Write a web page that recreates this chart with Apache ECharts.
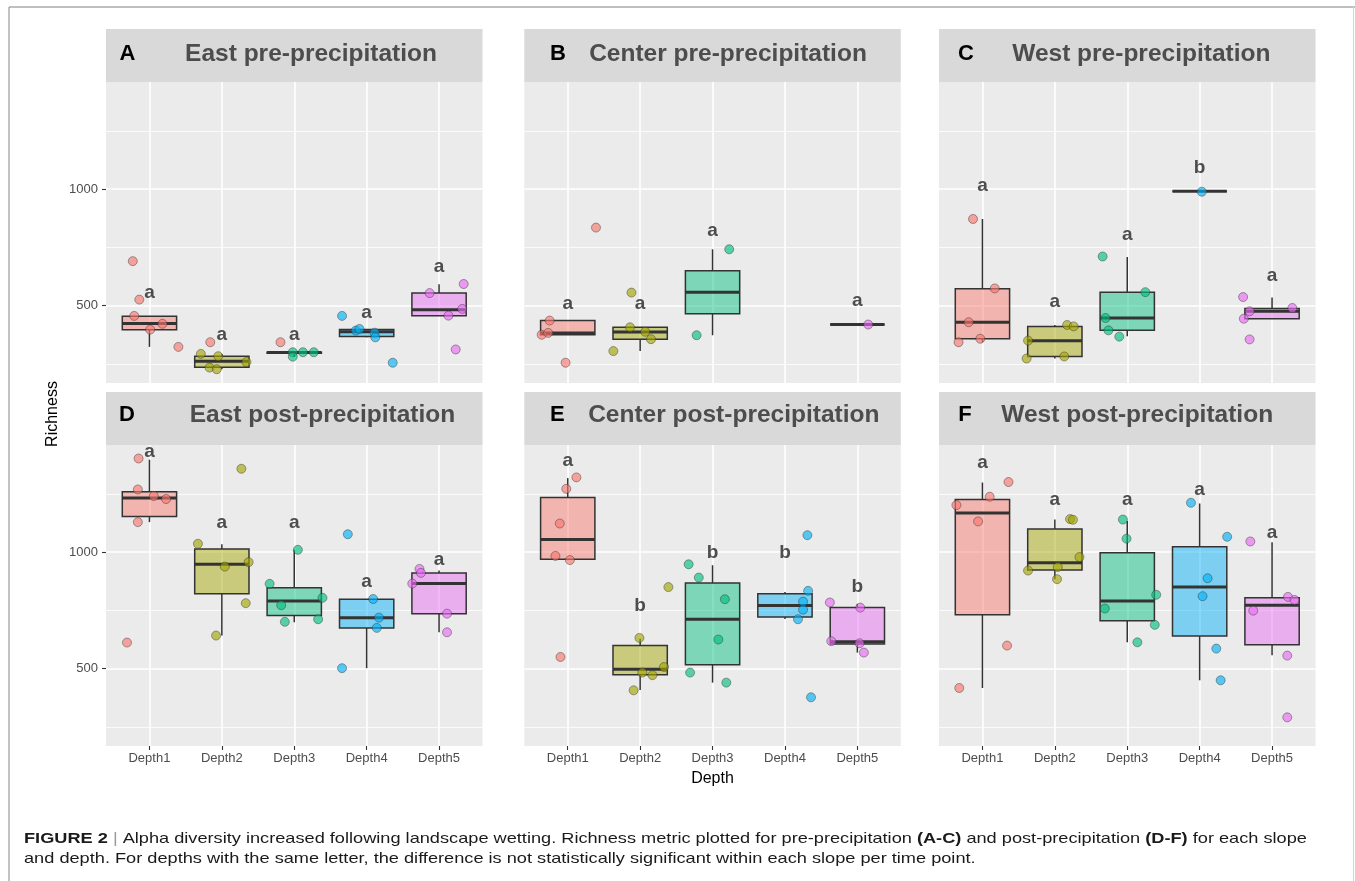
<!DOCTYPE html>
<html>
<head>
<meta charset="utf-8">
<title>Richness by depth</title>
<script src="https://cdn.jsdelivr.net/npm/echarts@6.0.0/dist/echarts.min.js"></script>
<style>
  html, body { margin: 0; padding: 0; background: #ffffff; }
  #chart { width: 1355px; height: 881px; }
</style>
</head>
<body>
<div id="chart"></div>
<script>
// ---- data ---------------------------------------------------------------
const depths = ['Depth1', 'Depth2', 'Depth3', 'Depth4', 'Depth5'];
const depthColors = ['#F8766D', '#A3A500', '#00BF7D', '#00B0F6', '#E76BF3'];
const panelLetters = ['A', 'B', 'C', 'D', 'E', 'F'];
const panelTitles = [
  'East pre-precipitation', 'Center pre-precipitation', 'West pre-precipitation',
  'East post-precipitation', 'Center post-precipitation', 'West post-precipitation'
];
const yMajorTicks = [500, 1000];
const yMinorTicks = [250, 750, 1250];
const yRange = [168, 1460];

// box statistics per depth: [lower whisker, Q1, median, Q3, upper whisker]
const eastPreBoxes = [
  [323, 397, 423, 454, 456], [227, 236, 261, 283, 293], [280, 296, 299, 300, 300],
  [364, 368, 388, 398, 398], [457, 457, 482, 554, 592]
];
const centerPreBoxes = [
  [375, 375, 383, 436, 436], [305, 356, 387, 407, 407], [373, 465, 557, 650, 742],
  null, [419, 419, 419, 419, 419]
];
const westPreBoxes = [
  [343, 358, 429, 573, 872], [273, 282, 349, 411, 417], [369, 394, 447, 558, 709],
  [991, 991, 991, 991, 991], [444, 444, 476, 488, 535]
];
const eastPostBoxes = [
  [1129, 1153, 1233, 1259, 1397], [642, 821, 948, 1014, 1034], [699, 728, 790, 847, 1010],
  [502, 675, 719, 798, 798], [656, 736, 865, 911, 921]
];
const centerPostBoxes = [
  [966, 970, 1054, 1235, 1318], [408, 474, 497, 599, 628], [440, 517, 712, 868, 944],
  [713, 722, 771, 821, 829], [569, 606, 615, 762, 778]
];
const westPostBoxes = [
  [417, 731, 1168, 1226, 1299], [884, 923, 955, 1099, 1140], [613, 706, 790, 997, 1134],
  [450, 640, 850, 1023, 1209], [558, 603, 772, 804, 1043]
];

// samples: [depth, horizontal jitter, richness, (optional) colour group]
const eastPrePoints = [
  [1, -0.23, 691], [1, -0.14, 526], [1, -0.21, 456], [1, 0.01, 397], [1, 0.18, 422], [1, 0.40, 323],
  [2, -0.16, 343, 1], [2, -0.29, 293], [2, -0.05, 283], [2, 0.34, 258], [2, -0.17, 234], [2, -0.07, 227],
  [3, -0.19, 343, 1], [3, -0.02, 300], [3, -0.02, 281], [3, 0.12, 300], [3, 0.27, 300],
  [4, -0.34, 456], [4, -0.15, 393], [4, -0.10, 400], [4, 0.11, 384], [4, 0.12, 364], [4, 0.36, 255],
  [5, -0.13, 554], [5, 0.34, 593], [5, 0.32, 486], [5, 0.13, 457], [5, 0.23, 312]
];
const centerPrePoints = [
  [1, -0.25, 436], [1, -0.36, 375], [1, -0.27, 383], [1, 0.39, 835], [1, -0.03, 255],
  [2, -0.12, 556], [2, -0.14, 407], [2, 0.07, 388], [2, 0.15, 356], [2, -0.37, 305],
  [3, 0.23, 742], [3, -0.22, 373],
  [5, 0.15, 419]
];
const westPrePoints = [
  [1, -0.13, 872], [1, 0.17, 574], [1, -0.19, 429], [1, -0.03, 358], [1, -0.33, 343],
  [2, 0.17, 417], [2, 0.26, 411], [2, -0.37, 350], [2, 0.13, 282], [2, -0.39, 273],
  [3, -0.34, 711], [3, 0.25, 558], [3, -0.30, 447], [3, -0.26, 394], [3, -0.11, 367],
  [4, 0.03, 989],
  [5, -0.40, 537], [5, 0.28, 490], [5, -0.31, 476], [5, -0.39, 444], [5, -0.31, 355]
];
const eastPostPoints = [
  [1, -0.15, 1402], [1, -0.16, 1269], [1, 0.06, 1241], [1, 0.23, 1228], [1, -0.16, 1129], [1, -0.31, 612],
  [2, -0.33, 1036], [2, 0.27, 1358], [2, 0.04, 938], [2, 0.37, 957], [2, 0.33, 781], [2, -0.08, 642],
  [3, -0.34, 864], [3, 0.05, 1010], [3, -0.18, 772], [3, 0.39, 804], [3, -0.13, 701], [3, 0.33, 712],
  [4, -0.26, 1077], [4, 0.09, 799], [4, 0.17, 719], [4, 0.14, 675], [4, -0.34, 502],
  [5, -0.27, 928], [5, -0.25, 911], [5, -0.37, 865], [5, 0.11, 736], [5, 0.11, 656]
];
const centerPostPoints = [
  [1, 0.12, 1321], [1, -0.02, 1272], [1, -0.11, 1123], [1, -0.17, 984], [1, 0.03, 966], [1, -0.10, 550],
  [2, -0.01, 632], [2, 0.39, 850], [2, 0.03, 483], [2, 0.17, 472], [2, 0.33, 507], [2, -0.09, 407],
  [3, -0.33, 948], [3, -0.19, 891], [3, 0.17, 798], [3, 0.08, 625], [3, -0.31, 483], [3, 0.19, 440],
  [4, 0.31, 1073], [4, 0.32, 834], [4, 0.25, 788], [4, 0.25, 753], [4, 0.18, 712], [4, 0.36, 377],
  [5, -0.38, 784], [5, 0.04, 762], [5, -0.36, 618], [5, 0.03, 609], [5, 0.09, 569]
];
const westPostPoints = [
  [1, 0.36, 1301], [1, 0.10, 1238], [1, -0.36, 1202], [1, -0.06, 1132], [1, 0.34, 599], [1, -0.32, 417],
  [2, 0.21, 1142], [2, 0.25, 1139], [2, 0.34, 979], [2, 0.04, 936], [2, -0.37, 921], [2, 0.03, 884],
  [3, -0.06, 1140], [3, -0.01, 1058], [3, 0.40, 817], [3, -0.31, 758], [3, 0.38, 688], [3, 0.14, 613],
  [4, -0.12, 1212], [4, 0.38, 1066], [4, 0.11, 888], [4, 0.04, 811], [4, 0.23, 586], [4, 0.29, 450],
  [5, -0.30, 1046], [5, 0.22, 808], [5, 0.31, 795], [5, -0.26, 749], [5, 0.21, 556], [5, 0.21, 291]
];

// significance letters per depth: [letter, richness level where it sits]
const eastPreLetters = [['a', 554], ['a', 373], ['a', 373], ['a', 469], ['a', 668]];
const centerPreLetters = [['a', 508], ['a', 508], ['a', 820], null, ['a', 521]];
const westPreLetters = [['a', 1016], ['a', 516], ['a', 806], ['b', 1093], ['a', 628]];
const eastPostLetters = [['a', 1432], ['a', 1127], ['a', 1127], ['a', 875], ['a', 967]];
const centerPostLetters = [['a', 1392], ['b', 769], ['b', 996], ['b', 996], ['b', 850]];
const westPostLetters = [['a', 1385], ['a', 1225], ['a', 1225], ['a', 1266], ['a', 1082]];

const captionLine1 = [
  ['bold', 'FIGURE 2'], ['bar', ' | '],
  ['plain', 'Alpha diversity increased following landscape wetting. Richness metric plotted for pre-precipitation '],
  ['bold', '(A-C)'], ['plain', ' and post-precipitation '], ['bold', '(D-F)'], ['plain', ' for each slope']
];
const captionLine2 = 'and depth. For depths with the same letter, the difference is not statistically significant within each slope per time point.';

// ---- layout -------------------------------------------------------------
const FONT = '"Liberation Sans", Arial, Helvetica, sans-serif';
const colLeft = [106, 524.3, 939];
const rowTop = [82, 445];
const plotW = 376.5;
const plotH = 301;
const stripH = 53;
const titleCenterX = [311, 728, 1141.3, 322.5, 733.8, 1137.2];
const letterCenterX = [127.5, 558, 966, 127, 557.3, 965];
const stripTextY = [54, 415];
const captionStretch = 1.212;

const panels = [
  { boxes: eastPreBoxes, points: eastPrePoints, marks: eastPreLetters },
  { boxes: centerPreBoxes, points: centerPrePoints, marks: centerPreLetters },
  { boxes: westPreBoxes, points: westPrePoints, marks: westPreLetters },
  { boxes: eastPostBoxes, points: eastPostPoints, marks: eastPostLetters },
  { boxes: centerPostBoxes, points: centerPostPoints, marks: centerPostLetters },
  { boxes: westPostBoxes, points: westPostPoints, marks: westPostLetters }
];

function rgba(hex, a) {
  const n = parseInt(hex.slice(1), 16);
  return 'rgba(' + ((n >> 16) & 255) + ',' + ((n >> 8) & 255) + ',' + (n & 255) + ',' + a + ')';
}

function renderBox(params, api) {
  const x = api.value(0);
  const pLo = api.coord([x, api.value(1)]);
  const pQ1 = api.coord([x, api.value(2)]);
  const pMd = api.coord([x, api.value(3)]);
  const pQ3 = api.coord([x, api.value(4)]);
  const pHi = api.coord([x, api.value(5)]);
  const half = api.size([0.75, 0])[0] / 2;
  const col = depthColors[x - 1];
  const edge = { stroke: '#333333', lineWidth: 1.5 };
  return {
    type: 'group',
    children: [
      { type: 'line', shape: { x1: pHi[0], y1: pHi[1], x2: pQ3[0], y2: pQ3[1] }, style: edge },
      { type: 'line', shape: { x1: pQ1[0], y1: pQ1[1], x2: pLo[0], y2: pLo[1] }, style: edge },
      { type: 'rect', shape: { x: pQ3[0] - half, y: pQ3[1], width: half * 2, height: pQ1[1] - pQ3[1] },
        style: { fill: rgba(col, 0.47), stroke: '#333333', lineWidth: 1.5 } },
      { type: 'line', shape: { x1: pMd[0] - half, y1: pMd[1], x2: pMd[0] + half, y2: pMd[1] },
        style: { stroke: '#333333', lineWidth: 3 } }
    ]
  };
}

function letterRenderer(marks) {
  return function (params, api) {
    const p = api.coord([api.value(0), api.value(1)]);
    return {
      type: 'text', x: p[0], y: p[1],
      style: { text: marks[params.dataIndex].letter, font: 'bold 19px ' + FONT, fill: '#4d4d4d',
        align: 'center', verticalAlign: 'middle' }
    };
  };
}

const grids = [], xAxes = [], yAxes = [], series = [], graphics = [];

panels.forEach((p, i) => {
  const col = i % 3, row = Math.floor(i / 3);
  const bottomRow = row === 1, leftCol = col === 0;
  grids.push({
    left: colLeft[col], top: rowTop[row], width: plotW, height: plotH,
    show: true, backgroundColor: '#ebebeb', borderWidth: 0
  });
  xAxes.push({
    type: 'value', gridIndex: i, min: 0.4, max: 5.6,
    axisLine: { show: false },
    axisTick: { show: bottomRow, length: 4, customValues: [1, 2, 3, 4, 5], lineStyle: { color: '#333333', width: 1.1 } },
    axisLabel: { show: bottomRow, customValues: [1, 2, 3, 4, 5], margin: 6,
      formatter: v => depths[Math.round(v) - 1], fontSize: 13, color: '#4d4d4d', fontFamily: FONT },
    splitLine: { show: true, lineStyle: { color: '#ffffff', width: 1.6 } }
  });
  yAxes.push({
    type: 'value', gridIndex: i, min: yRange[0], max: yRange[1], position: 'left',
    axisLine: { show: false },
    axisTick: { show: leftCol, length: 4, customValues: yMajorTicks, lineStyle: { color: '#333333', width: 1.1 } },
    axisLabel: { show: leftCol, customValues: yMajorTicks, margin: 8, formatter: v => String(v),
      fontSize: 13, color: '#4d4d4d', fontFamily: FONT },
    splitLine: { show: true, lineStyle: { color: '#ffffff', width: 1.6 } }
  });
  yAxes.push({
    type: 'value', gridIndex: i, min: yRange[0], max: yRange[1], position: 'right',
    axisLine: { show: false },
    axisTick: { show: false, customValues: yMinorTicks },
    axisLabel: { show: false, customValues: yMinorTicks },
    splitLine: { show: true, lineStyle: { color: '#ffffff', width: 0.8 } }
  });

  series.push({
    type: 'custom', xAxisIndex: i, yAxisIndex: 2 * i, z: 2,
    renderItem: renderBox,
    encode: { x: 0, y: [1, 2, 3, 4, 5] },
    data: p.boxes.map((b, k) => b ? [k + 1].concat(b) : null).filter(Boolean)
  });
  series.push({
    type: 'scatter', xAxisIndex: i, yAxisIndex: 2 * i, z: 3,
    symbolSize: 9,
    data: p.points.map(s => ({
      value: [s[0] + s[1], s[2]],
      itemStyle: {
        color: rgba(depthColors[(s[3] !== undefined ? s[3] : s[0]) - 1], 0.8),
        borderColor: 'rgba(50,50,50,0.55)', borderWidth: 1
      }
    }))
  });
  const marks = p.marks.map((m, k) => m ? { letter: m[0], depth: k + 1, level: m[1] } : null).filter(Boolean);
  series.push({
    type: 'custom', xAxisIndex: i, yAxisIndex: 2 * i, z: 4,
    renderItem: letterRenderer(marks),
    encode: { x: 0, y: 1 },
    data: marks.map(m => [m.depth, m.level])
  });

  // facet strip
  graphics.push({
    type: 'rect', shape: { x: colLeft[col], y: rowTop[row] - stripH, width: plotW, height: stripH },
    style: { fill: '#d9d9d9' }
  });
  graphics.push({
    type: 'text', x: titleCenterX[i], y: stripTextY[row],
    style: { text: panelTitles[i], font: 'bold 24.5px ' + FONT, fill: '#4d4d4d', align: 'center', verticalAlign: 'middle' }
  });
  graphics.push({
    type: 'text', x: letterCenterX[i], y: stripTextY[row],
    style: { text: panelLetters[i], font: 'bold 22px ' + FONT, fill: '#000000', align: 'center', verticalAlign: 'middle' }
  });
});

// outer frame
graphics.push({ type: 'line', shape: { x1: 9, y1: 7, x2: 1355, y2: 7 }, style: { stroke: '#808080', lineWidth: 1.2 } });
graphics.push({ type: 'line', shape: { x1: 9, y1: 7, x2: 9, y2: 881 }, style: { stroke: '#9a9a9a', lineWidth: 1.2 } });
graphics.push({ type: 'line', shape: { x1: 1353.5, y1: 7, x2: 1353.5, y2: 881 }, style: { stroke: '#d4d4d4', lineWidth: 1 } });

// axis titles
graphics.push({
  type: 'text', x: 53, y: 414, rotation: Math.PI / 2,
  style: { text: 'Richness', font: '16px ' + FONT, fill: '#000000', align: 'center', verticalAlign: 'middle' }
});
graphics.push({
  type: 'text', x: 712.5, y: 779,
  style: { text: 'Depth', font: '16px ' + FONT, fill: '#000000', align: 'center', verticalAlign: 'middle' }
});

// caption
graphics.push({
  type: 'text', x: 24, y: 839, scaleX: captionStretch,
  style: {
    text: captionLine1.map(s => '{' + s[0] + '|' + s[1] + '}').join(''),
    verticalAlign: 'middle',
    rich: {
      bold: { font: 'bold 15px ' + FONT, fill: '#1a1a1a' },
      bar: { font: '15px ' + FONT, fill: '#9a9a9a' },
      plain: { font: '15px ' + FONT, fill: '#1a1a1a' }
    }
  }
});
graphics.push({
  type: 'text', x: 24, y: 859, scaleX: captionStretch,
  style: { text: captionLine2, font: '15px ' + FONT, fill: '#1a1a1a', verticalAlign: 'middle' }
});

const chart = echarts.init(document.getElementById('chart'), null, { renderer: 'canvas' });
chart.setOption({
  animation: false,
  backgroundColor: '#ffffff',
  grid: grids,
  xAxis: xAxes,
  yAxis: yAxes,
  series: series,
  graphic: graphics
});
</script>
</body>
</html>
